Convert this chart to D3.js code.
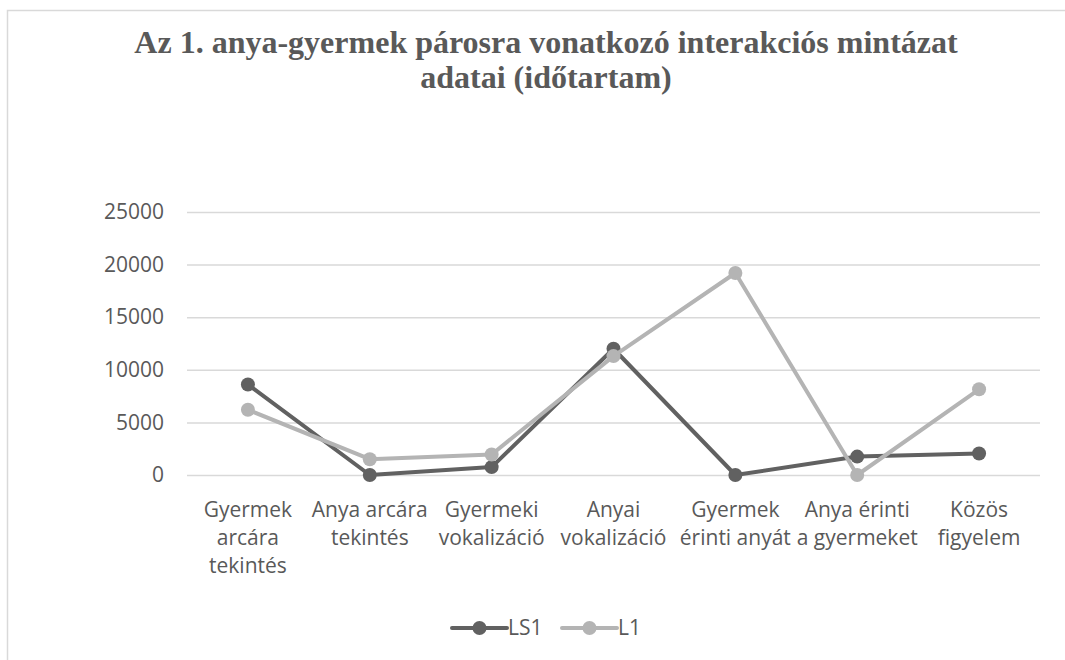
<!DOCTYPE html>
<meta charset="utf-8">
<script src="https://d3js.org/d3.v7.min.js"></script>
<style>
  body { margin: 0; background: #fff; }
</style>
<div id="chart"></div>
<script>

// data
var categories = [
  "Gyermek arcára tekintés",
  "Anya arcára tekintés",
  "Gyermeki vokalizáció",
  "Anyai vokalizáció",
  "Gyermek érinti anyát",
  "Anya érinti a gyermeket",
  "Közös figyelem"
];
// label lines as Excel wrapped them
var categoryLines = [
  ["Gyermek", "arcára", "tekintés"],
  ["Anya arcára", "tekintés"],
  ["Gyermeki", "vokalizáció"],
  ["Anyai", "vokalizáció"],
  ["Gyermek", "érinti anyát"],
  ["Anya érinti", "a gyermeket"],
  ["Közös", "figyelem"]
];
var seriesNames = ["LS1", "L1"];
var ls1Values = [8600, 0, 750, 12000, 0, 1750, 2050];
var l1Values = [6200, 1500, 1950, 11300, 19200, 0, 8150];
var yTicks = [0, 5000, 10000, 15000, 20000, 25000];
var titleLines = ["Az 1. anya-gyermek párosra vonatkozó interakciós mintázat", "adatai (időtartam)"];

var W = 1065, H = 660;
var margin = {top: 212, right: 25, bottom: 185, left: 187};
var width = W - margin.left - margin.right,
    height = H - margin.top - margin.bottom;

var colors = {"LS1": "#616161", "L1": "#b4b4b4"};
var textColor = "#595959";
var font = "'Open Sans', sans-serif";

var svg = d3.select("#chart").append("svg")
  .attr("width", W)
  .attr("height", H);

// chart frame (runs off the page on right and bottom)
svg.append("rect")
  .attr("x", 7.5).attr("y", 10.5)
  .attr("width", W + 20).attr("height", H + 20)
  .style("fill", "none")
  .style("stroke", "#d9d9d9")
  .style("stroke-width", 1.5);

// title
svg.append("text")
  .attr("x", 546)
  .attr("text-anchor", "middle")
  .style("font-family", "'Liberation Serif', 'Times New Roman', serif")
  .style("font-weight", "bold")
  .style("font-size", "32px")
  .style("fill", textColor)
  .selectAll("tspan")
  .data(titleLines)
  .enter().append("tspan")
    .attr("x", 546)
    .attr("y", function(d, i) { return 53 + i * 35; })
    .text(function(d) { return d; });

var g = svg.append("g")
  .attr("transform", "translate(" + margin.left + "," + margin.top + ")");

var x = d3.scaleBand()
  .domain(categories)
  .range([0, width]);

var y = d3.scaleLinear()
  .domain([0, 25000])
  .range([height, 0]);

// gridlines + y labels
var yAxis = g.append("g")
  .call(d3.axisLeft(y).tickValues(yTicks).tickFormat(d3.format("d")).tickSize(-width).tickPadding(23));
yAxis.select(".domain").remove();
yAxis.selectAll(".tick line")
  .style("stroke", "#d9d9d9")
  .style("stroke-width", 1.5);
yAxis.selectAll(".tick text")
  .style("font-family", font)
  .style("font-size", "21px")
  .style("fill", textColor);

// category labels
var xLab = g.append("g")
  .attr("transform", "translate(0," + height + ")");
xLab.selectAll("text")
  .data(categories)
  .enter().append("text")
    .attr("text-anchor", "middle")
    .style("font-family", font)
    .style("font-size", "21px")
    .style("fill", textColor)
    .each(function(d, i) {
      d3.select(this).selectAll("tspan")
        .data(categoryLines[i])
        .enter().append("tspan")
          .attr("x", x(d) + x.bandwidth() / 2)
          .attr("y", function(t, j) { return 42 + j * 28; })
          .text(function(t) { return t; });
    });

// lines
var series = [
  {name: "LS1", values: ls1Values},
  {name: "L1", values: l1Values}
];

var line = d3.line()
  .x(function(d, i) { return x(categories[i]) + x.bandwidth() / 2; })
  .y(function(d) { return y(d); });

series.forEach(function(s) {
  g.append("path")
    .datum(s.values)
    .attr("d", line)
    .style("fill", "none")
    .style("stroke", colors[s.name])
    .style("stroke-width", 4)
    .style("stroke-linejoin", "round");

  g.selectAll(".dot-" + s.name)
    .data(s.values)
    .enter().append("circle")
      .attr("class", "dot-" + s.name)
      .attr("cx", function(d, i) { return x(categories[i]) + x.bandwidth() / 2; })
      .attr("cy", function(d) { return y(d); })
      .attr("r", 7)
      .style("fill", colors[s.name]);
});

// legend
var legend = svg.append("g")
  .attr("transform", "translate(452,628)");
var legendX = [0, 110];
seriesNames.forEach(function(name, i) {
  var lg = legend.append("g").attr("transform", "translate(" + legendX[i] + ",0)");
  lg.append("line")
    .attr("x1", 0).attr("x2", 55)
    .style("stroke", colors[name])
    .style("stroke-width", 4)
    .style("stroke-linecap", "round");
  lg.append("circle")
    .attr("cx", 27.5).attr("r", 7)
    .style("fill", colors[name]);
  lg.append("text")
    .attr("x", 56)
    .attr("dy", "0.35em")
    .style("font-family", font)
    .style("font-size", "21px")
    .style("fill", textColor)
    .text(name);
});

</script>
